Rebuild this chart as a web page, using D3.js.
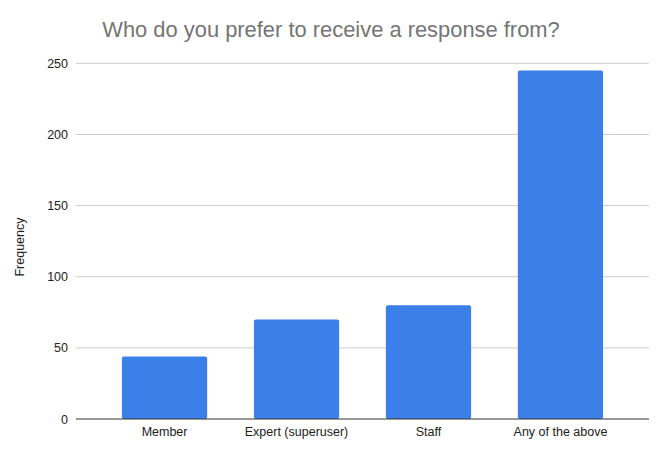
<!DOCTYPE html>
<head>
  <meta charset="utf-8">
  <script src="https://d3js.org/d3.v7.min.js"></script>
  <style>
    body { margin:0; background:#fff; }
    svg { display:block; font-family:"Liberation Sans", Arial, sans-serif; }
  </style>
</head>

<body>
  <script type='text/javascript'>
    var categories = ["Member", "Expert (superuser)", "Staff", "Any of the above"];
    var values = [44, 70, 80, 245];
    var yTicks = [0, 50, 100, 150, 200, 250];

    var width = 667, height = 451;
    var plotLeft = 76, plotRight = 649, plotTop = 63.3, plotBottom = 419;

    var svg = d3.select('body').append('svg')
      .attr('width', width)
      .attr('height', height);

    // scales
    var x = d3.scaleBand()
      .domain(categories)
      .range([plotLeft, plotRight])
      .paddingInner(0.354)
      .paddingOuter(0.348);

    var y = d3.scaleLinear()
      .domain([0, 250])
      .range([plotBottom, plotTop]);

    // gridlines
    svg.append('g')
      .selectAll('line')
      .data(yTicks.filter(d => d > 0))
      .enter().append('line')
      .attr('x1', plotLeft).attr('x2', plotRight)
      .attr('y1', d => y(d)).attr('y2', d => y(d))
      .attr('stroke', '#cccccc')
      .attr('stroke-width', 1);

    // y axis labels
    var yAxis = d3.axisLeft(y).tickValues(yTicks).tickSize(0).tickPadding(8);
    var gy = svg.append('g')
      .attr('transform', 'translate(' + plotLeft + ',0)')
      .call(yAxis);
    gy.select('.domain').remove();
    gy.selectAll('text')
      .attr('font-size', 12.5)
      .attr('fill', '#222')
      .style('font-family', '"Liberation Sans", Arial, sans-serif');

    // bars
    svg.append('g')
      .selectAll('rect')
      .data(values)
      .enter().append('rect')
      .attr('x', (d, i) => x(categories[i]))
      .attr('y', d => y(d))
      .attr('width', x.bandwidth())
      .attr('height', d => plotBottom - y(d))
      .attr('rx', 2)
      .attr('fill', '#3b7fe9');

    // baseline
    svg.append('line')
      .attr('x1', plotLeft).attr('x2', plotRight)
      .attr('y1', plotBottom).attr('y2', plotBottom)
      .attr('stroke', '#333')
      .attr('stroke-width', 1.2);

    // x axis labels
    var xAxis = d3.axisBottom(x).tickSize(0).tickPadding(8);
    var gx = svg.append('g')
      .attr('transform', 'translate(0,' + plotBottom + ')')
      .call(xAxis);
    gx.select('.domain').remove();
    gx.selectAll('text')
      .attr('font-size', 12.5)
      .attr('fill', '#222')
      .style('font-family', '"Liberation Sans", Arial, sans-serif');

    // y axis title
    svg.append('text')
      .attr('transform', 'translate(24,247) rotate(-90)')
      .attr('text-anchor', 'middle')
      .attr('font-size', 12.5)
      .attr('fill', '#222')
      .text('Frequency');

    // chart title
    svg.append('text')
      .attr('x', 331)
      .attr('y', 37)
      .attr('text-anchor', 'middle')
      .attr('font-size', 21.9)
      .attr('fill', '#757575')
      .text('Who do you prefer to receive a response from?');
  </script>
</body>
